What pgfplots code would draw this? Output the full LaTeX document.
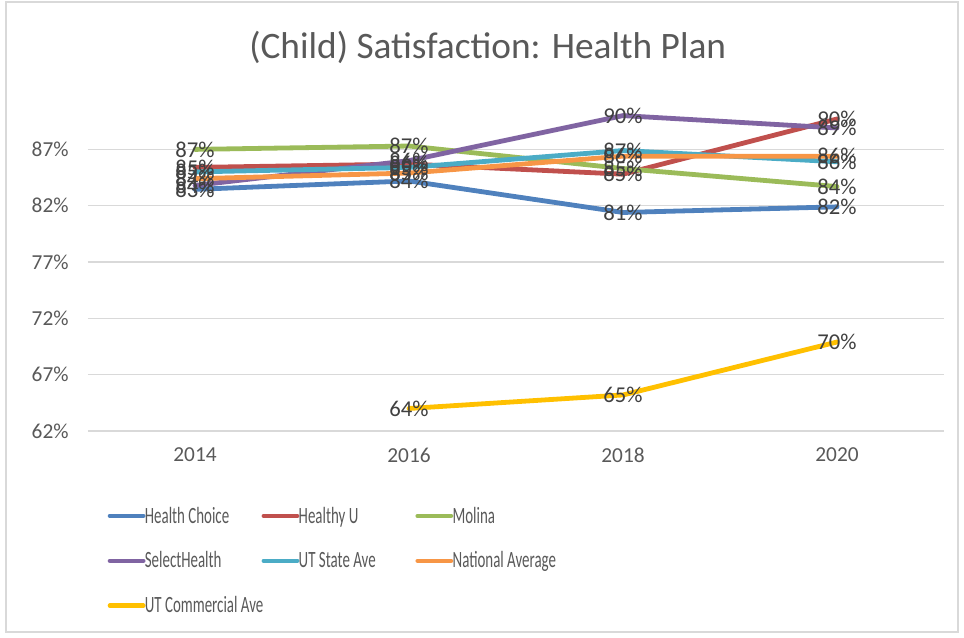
\documentclass[border=0pt]{standalone}
\usepackage{pgfplots}
\pgfplotsset{compat=1.18}
\usepackage{fontspec}
\setmainfont{Carlito}

\definecolor{hchoice}{HTML}{4F81BD}
\definecolor{healthyu}{HTML}{C0504D}
\definecolor{molina}{HTML}{9BBB59}
\definecolor{selecth}{HTML}{8064A2}
\definecolor{utstate}{HTML}{4BACC6}
\definecolor{natavg}{HTML}{F79646}
\definecolor{utcomm}{HTML}{FFC000}
\definecolor{gridgray}{HTML}{D9D9D9}
\definecolor{tickgray}{HTML}{595959}
\definecolor{lblgray}{HTML}{404040}

% legend entry: fixed column width, text squeezed like the original
\newcommand{\legtxt}[1]{\makebox[83pt][l]{\hspace{-2.5pt}\scalebox{0.64}[1]{#1}}}

\begin{document}
\begin{tikzpicture}
\useasboundingbox (-66pt,-154.5pt) rectangle (657pt,323.25pt);
\draw[gridgray, line width=0.8pt] (-61.5pt,-150.75pt) rectangle (652.5pt,321.75pt);
\begin{axis}[
  at={(0,0)}, anchor=south west,
  scale only axis,
  width=642pt, height=245pt,
  xmin=-0.5, xmax=3.5,
  ymin=62, ymax=91,
  xtick={0,1,2,3},
  xticklabels={2014,2016,2018,2020},
  ytick={62,67,72,77,82,87},
  yticklabel={\pgfmathprintnumber{\tick}\%},
  /pgf/number format/assume math mode=true,
  ticklabel style={font=\fontsize{16}{19}\selectfont, text=tickgray},
  xticklabel style={yshift=-9pt},
  yticklabel style={xshift=-11pt},
  axis line style={draw=none},
  major tick length=0pt,
  ymajorgrids,
  grid style={gridgray, line width=0.9pt},
  clip=false,
  every axis plot/.append style={line width=3.6pt, line cap=round, line join=round},
  nodes near coords={\pgfmathprintnumber[fixed,precision=0]{\pgfplotspointmeta}\%},
  nodes near coords align={center},
  every node near coord/.append style={font=\fontsize{17}{20}\selectfont, text=lblgray, inner sep=0pt},
  legend columns=3,
  legend cell align=left,
  legend style={draw=none, fill=none, at={(axis description cs:0.018,-0.215)}, anchor=north west,
    font=\fontsize{17.5}{20}\selectfont, text=tickgray,
    /tikz/every even column/.append style={column sep=0pt},
    row sep=16pt},
  legend image code/.code={\draw[#1, line width=3.4pt] (0pt,0pt) -- (25pt,0pt);},
]
\addplot[hchoice] coordinates {(0,83.45) (1,84.2) (2,81.4) (3,81.9)};
\addlegendentry{\legtxt{Health Choice}}
\addplot[healthyu] coordinates {(0,85.4) (1,85.7) (2,84.8) (3,89.7)};
\addlegendentry{\legtxt{Healthy U}}
\addplot[molina] coordinates {(0,87.0) (1,87.3) (2,85.3) (3,83.7)};
\addlegendentry{\legtxt{Molina}}
\addplot[selecth] coordinates {(0,83.8) (1,86.0) (2,90.0) (3,88.9)};
\addlegendentry{\legtxt{SelectHealth}}
\addplot[utstate] coordinates {(0,85.0) (1,85.4) (2,86.9) (3,85.9)};
\addlegendentry{\legtxt{UT State Ave}}
\addplot[natavg] coordinates {(0,84.4) (1,84.9) (2,86.4) (3,86.4)};
\addlegendentry{\legtxt{National Average}}
\addplot[utcomm] coordinates {(1,64.0) (2,65.2) (3,69.9)};
\addlegendentry{\legtxt{UT Commercial Ave}}
\node[font=\fontsize{28}{32}\selectfont, text=tickgray] at (axis description cs:0.467,1.174) {(Child) Satisfaction: Health Plan};
\end{axis}
\end{tikzpicture}
\end{document}
